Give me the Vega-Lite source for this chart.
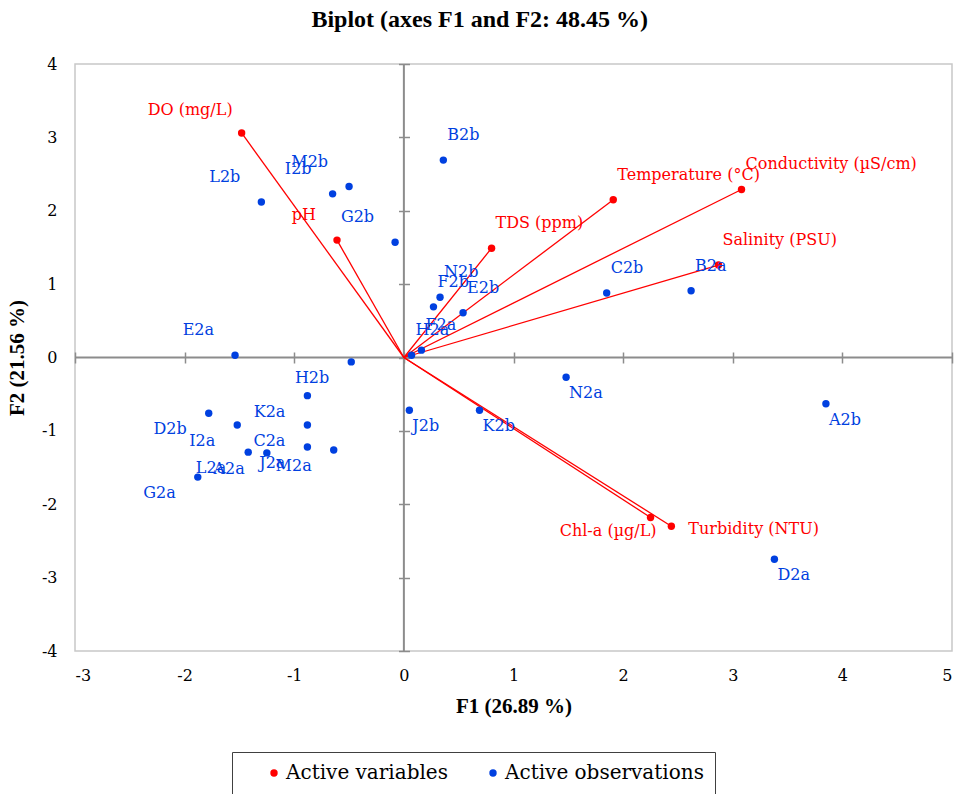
{
  "$schema": "https://vega.github.io/schema/vega-lite/v6.json",
  "width": 877,
  "height": 587,
  "autosize": {"type": "none"},
  "padding": {"left": 75, "top": 64, "right": 11, "bottom": 143},
  "background": "white",
  "title": {
    "text": "Biplot (axes F1 and F2: 48.45 %)",
    "font": "Liberation Serif",
    "fontSize": 24,
    "fontWeight": "bold",
    "color": "#000000",
    "anchor": "middle",
    "frame": "bounds",
    "offset": 24
  },
  "config": {
    "view": {"stroke": "#c8c8c8", "strokeWidth": 1.5},
    "axis": {"grid": false}
  },
  "data": {
    "values": [
      {"name": "DO (mg/L)", "type": "Active variables", "F1": -1.48, "F2": 3.06},
      {"name": "pH", "type": "Active variables", "F1": -0.61, "F2": 1.60},
      {"name": "TDS (ppm)", "type": "Active variables", "F1": 0.80, "F2": 1.49},
      {"name": "Temperature (°C)", "type": "Active variables", "F1": 1.91, "F2": 2.15},
      {"name": "Conductivity (µS/cm)", "type": "Active variables", "F1": 3.08, "F2": 2.29},
      {"name": "Salinity (PSU)", "type": "Active variables", "F1": 2.87, "F2": 1.26},
      {"name": "Chl-a (µg/L)", "type": "Active variables", "F1": 2.25, "F2": -2.18},
      {"name": "Turbidity (NTU)", "type": "Active variables", "F1": 2.44, "F2": -2.30},
      {"name": "A2a", "type": "Active observations", "F1": -1.25, "F2": -1.30},
      {"name": "A2b", "type": "Active observations", "F1": 3.85, "F2": -0.63},
      {"name": "B2a", "type": "Active observations", "F1": 2.62, "F2": 0.91},
      {"name": "B2b", "type": "Active observations", "F1": 0.36, "F2": 2.69},
      {"name": "C2a", "type": "Active observations", "F1": -0.88, "F2": -0.92},
      {"name": "C2b", "type": "Active observations", "F1": 1.85, "F2": 0.88},
      {"name": "D2a", "type": "Active observations", "F1": 3.38, "F2": -2.75},
      {"name": "D2b", "type": "Active observations", "F1": -1.78, "F2": -0.76},
      {"name": "E2a", "type": "Active observations", "F1": -1.54, "F2": 0.03},
      {"name": "E2b", "type": "Active observations", "F1": 0.54, "F2": 0.61},
      {"name": "F2a", "type": "Active observations", "F1": 0.16, "F2": 0.10},
      {"name": "F2b", "type": "Active observations", "F1": 0.27, "F2": 0.69},
      {"name": "G2a", "type": "Active observations", "F1": -1.88, "F2": -1.63},
      {"name": "G2b", "type": "Active observations", "F1": -0.08, "F2": 1.57},
      {"name": "H2a", "type": "Active observations", "F1": 0.07, "F2": 0.03},
      {"name": "H2b", "type": "Active observations", "F1": -0.48, "F2": -0.06},
      {"name": "I2a", "type": "Active observations", "F1": -1.52, "F2": -0.92},
      {"name": "I2b", "type": "Active observations", "F1": -0.65, "F2": 2.23},
      {"name": "J2a", "type": "Active observations", "F1": -0.88, "F2": -1.22},
      {"name": "J2b", "type": "Active observations", "F1": 0.05, "F2": -0.72},
      {"name": "K2a", "type": "Active observations", "F1": -0.88, "F2": -0.52},
      {"name": "K2b", "type": "Active observations", "F1": 0.69, "F2": -0.72},
      {"name": "L2a", "type": "Active observations", "F1": -1.42, "F2": -1.29},
      {"name": "L2b", "type": "Active observations", "F1": -1.30, "F2": 2.12},
      {"name": "M2a", "type": "Active observations", "F1": -0.64, "F2": -1.26},
      {"name": "M2b", "type": "Active observations", "F1": -0.50, "F2": 2.33},
      {"name": "N2a", "type": "Active observations", "F1": 1.48, "F2": -0.27},
      {"name": "N2b", "type": "Active observations", "F1": 0.33, "F2": 0.82}
    ]
  },
  "resolve": {"axis": {"x": "independent", "y": "independent"}},
  "layer": [
    {
      "description": "vertical zero line",
      "data": {"values": [{}]},
      "mark": {"type": "rule", "color": "#8c8c8c", "strokeWidth": 2},
      "encoding": {
        "x": {"datum": 0, "type": "quantitative", "scale": {"domain": [-3, 5], "nice": false, "zero": false}, "axis": null}
      }
    },
    {
      "description": "horizontal zero line",
      "data": {"values": [{}]},
      "mark": {"type": "rule", "color": "#8c8c8c", "strokeWidth": 2},
      "encoding": {
        "y": {"datum": 0, "type": "quantitative", "scale": {"domain": [-4, 4], "nice": false, "zero": false}, "axis": null}
      }
    },
    {
      "description": "variable vectors from the origin, carrying the outer tick labels",
      "transform": [{"filter": "datum.type === 'Active variables'"}],
      "mark": {"type": "rule", "color": "#ff0000", "strokeWidth": 1.3},
      "encoding": {
        "x": {
          "field": "F1", "type": "quantitative",
          "scale": {"domain": [-3, 5], "nice": false, "zero": false},
          "axis": {
            "orient": "bottom", "values": [-3, -2, -1, 0, 1, 2, 3, 4, 5], "labelExpr": "'' + datum.value",
            "domain": false, "ticks": false, "grid": false,
            "labelFont": "DejaVu Serif", "labelFontSize": 16, "labelColor": "#000000", "labelPadding": 16,
            "title": "F1 (26.89 %)", "titleFont": "Liberation Serif", "titleFontSize": 21,
            "titleFontWeight": "bold", "titleColor": "#000000", "titlePadding": 12
          }
        },
        "y": {
          "field": "F2", "type": "quantitative",
          "scale": {"domain": [-4, 4], "nice": false, "zero": false},
          "axis": {
            "orient": "left", "values": [-4, -3, -2, -1, 0, 1, 2, 3, 4], "labelExpr": "'' + datum.value",
            "domain": false, "ticks": false, "grid": false,
            "labelFont": "DejaVu Serif", "labelFontSize": 16, "labelColor": "#000000", "labelPadding": 18,
            "title": "F2 (21.56 %)", "titleFont": "Liberation Serif", "titleFontSize": 21,
            "titleFontWeight": "bold", "titleColor": "#000000", "titlePadding": 14
          }
        },
        "x2": {"datum": 0},
        "y2": {"datum": 0}
      }
    },
    {
      "description": "points, carrying the tick marks that cross the zero lines",
      "mark": {"type": "circle", "size": 55, "opacity": 1},
      "encoding": {
        "x": {
          "field": "F1", "type": "quantitative",
          "scale": {"domain": [-3, 5], "nice": false, "zero": false},
          "axis": {
            "orient": "bottom", "offset": -299, "values": [-3, -2, -1, 0, 1, 2, 3, 4, 5],
            "domain": false, "labels": false, "grid": false, "title": null,
            "ticks": true, "tickSize": 11, "tickColor": "#8c8c8c", "tickWidth": 1.5
          }
        },
        "y": {
          "field": "F2", "type": "quantitative",
          "scale": {"domain": [-4, 4], "nice": false, "zero": false},
          "axis": {
            "orient": "left", "offset": -334.5, "values": [-4, -3, -2, -1, 0, 1, 2, 3, 4],
            "domain": false, "labels": false, "grid": false, "title": null,
            "ticks": true, "tickSize": 11, "tickColor": "#8c8c8c", "tickWidth": 1.5
          }
        },
        "color": {
          "field": "type", "type": "nominal",
          "scale": {"domain": ["Active variables", "Active observations"], "range": ["#ff0000", "#0040e0"]},
          "legend": {
            "orient": "none", "legendX": 157, "legendY": 688, "direction": "horizontal", "columns": 2,
            "title": null, "labelFont": "DejaVu Serif", "labelFontSize": 20, "labelColor": "#000000", "labelLimit": 400,
            "symbolType": "circle", "symbolSize": 55, "symbolStrokeWidth": 0, "symbolOffset": 21,
            "labelOffset": 2, "columnPadding": 14, "strokeColor": "#404040", "padding": 11
          }
        }
      }
    },
    {
      "description": "labels, upper right quadrant",
      "transform": [{"filter": "datum.F1 >= 0 && datum.F2 >= 0"}],
      "mark": {"type": "text", "font": "DejaVu Serif", "fontSize": 16, "align": "left", "baseline": "middle", "dx": 4, "dy": -25},
      "encoding": {
        "x": {"field": "F1", "type": "quantitative", "scale": {"domain": [-3, 5], "nice": false, "zero": false}, "axis": null},
        "y": {"field": "F2", "type": "quantitative", "scale": {"domain": [-4, 4], "nice": false, "zero": false}, "axis": null},
        "text": {"field": "name"},
        "color": {"field": "type", "type": "nominal", "legend": null}
      }
    },
    {
      "description": "labels, upper left quadrant",
      "transform": [{"filter": "datum.F1 < 0 && datum.F2 >= 0 && datum.name !== 'DO (mg/L)'"}],
      "mark": {"type": "text", "font": "DejaVu Serif", "fontSize": 16, "align": "right", "baseline": "middle", "dx": -21, "dy": -25},
      "encoding": {
        "x": {"field": "F1", "type": "quantitative", "scale": {"domain": [-3, 5], "nice": false, "zero": false}, "axis": null},
        "y": {"field": "F2", "type": "quantitative", "scale": {"domain": [-4, 4], "nice": false, "zero": false}, "axis": null},
        "text": {"field": "name"},
        "color": {"field": "type", "type": "nominal", "legend": null}
      }
    },
    {
      "description": "label for DO",
      "transform": [{"filter": "datum.name === 'DO (mg/L)'"}],
      "mark": {"type": "text", "font": "DejaVu Serif", "fontSize": 16, "align": "right", "baseline": "middle", "dx": -9, "dy": -23},
      "encoding": {
        "x": {"field": "F1", "type": "quantitative", "scale": {"domain": [-3, 5], "nice": false, "zero": false}, "axis": null},
        "y": {"field": "F2", "type": "quantitative", "scale": {"domain": [-4, 4], "nice": false, "zero": false}, "axis": null},
        "text": {"field": "name"},
        "color": {"field": "type", "type": "nominal", "legend": null}
      }
    },
    {
      "description": "labels, lower left quadrant",
      "transform": [{"filter": "datum.F1 < 0 && datum.F2 < 0"}],
      "mark": {"type": "text", "font": "DejaVu Serif", "fontSize": 16, "align": "right", "baseline": "middle", "dx": -22, "dy": 16},
      "encoding": {
        "x": {"field": "F1", "type": "quantitative", "scale": {"domain": [-3, 5], "nice": false, "zero": false}, "axis": null},
        "y": {"field": "F2", "type": "quantitative", "scale": {"domain": [-4, 4], "nice": false, "zero": false}, "axis": null},
        "text": {"field": "name"},
        "color": {"field": "type", "type": "nominal", "legend": null}
      }
    },
    {
      "description": "labels, lower right quadrant",
      "transform": [{"filter": "datum.F1 >= 0 && datum.F2 < 0 && datum.type === 'Active observations'"}],
      "mark": {"type": "text", "font": "DejaVu Serif", "fontSize": 16, "align": "left", "baseline": "middle", "dx": 3, "dy": 16},
      "encoding": {
        "x": {"field": "F1", "type": "quantitative", "scale": {"domain": [-3, 5], "nice": false, "zero": false}, "axis": null},
        "y": {"field": "F2", "type": "quantitative", "scale": {"domain": [-4, 4], "nice": false, "zero": false}, "axis": null},
        "text": {"field": "name"},
        "color": {"field": "type", "type": "nominal", "legend": null}
      }
    },
    {
      "description": "label for Chl-a",
      "transform": [{"filter": "datum.name === 'Chl-a (µg/L)'"}],
      "mark": {"type": "text", "font": "DejaVu Serif", "fontSize": 16, "align": "right", "baseline": "middle", "dx": 6, "dy": 14},
      "encoding": {
        "x": {"field": "F1", "type": "quantitative", "scale": {"domain": [-3, 5], "nice": false, "zero": false}, "axis": null},
        "y": {"field": "F2", "type": "quantitative", "scale": {"domain": [-4, 4], "nice": false, "zero": false}, "axis": null},
        "text": {"field": "name"},
        "color": {"field": "type", "type": "nominal", "legend": null}
      }
    },
    {
      "description": "label for Turbidity",
      "transform": [{"filter": "datum.name === 'Turbidity (NTU)'"}],
      "mark": {"type": "text", "font": "DejaVu Serif", "fontSize": 16, "align": "left", "baseline": "middle", "dx": 17, "dy": 3},
      "encoding": {
        "x": {"field": "F1", "type": "quantitative", "scale": {"domain": [-3, 5], "nice": false, "zero": false}, "axis": null},
        "y": {"field": "F2", "type": "quantitative", "scale": {"domain": [-4, 4], "nice": false, "zero": false}, "axis": null},
        "text": {"field": "name"},
        "color": {"field": "type", "type": "nominal", "legend": null}
      }
    }
  ]
}
